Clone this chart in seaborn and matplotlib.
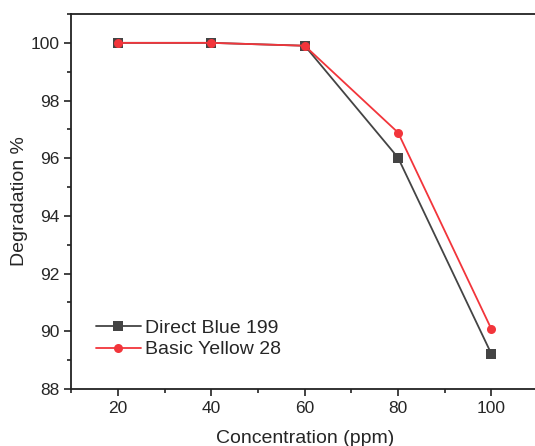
import matplotlib
matplotlib.use("Agg")
import matplotlib.pyplot as plt
import seaborn as sns
import pandas as pd
from matplotlib.ticker import MultipleLocator

concentration = [20, 40, 60, 80, 100]
direct_blue_199 = [100.0, 100.0, 99.9, 96.02, 89.22]
basic_yellow_28 = [100.0, 100.0, 99.9, 96.89, 90.08]
series_names = ["Direct Blue 199", "Basic Yellow 28"]

df = pd.concat([
    pd.DataFrame({"Concentration": concentration, "Degradation": direct_blue_199, "Dye": series_names[0]}),
    pd.DataFrame({"Concentration": concentration, "Degradation": basic_yellow_28, "Dye": series_names[1]}),
])

sns.set_style("ticks")
plt.rcParams['font.family'] = ['Liberation Sans', 'DejaVu Sans']

fig = plt.figure(figsize=(5.35, 4.46), dpi=100)
ax = fig.add_axes([0.1336, 0.1278, 0.872, 0.8408])

palette = {series_names[0]: "#444444", series_names[1]: "#f2353b"}
sns.lineplot(data=df, x="Concentration", y="Degradation", hue="Dye", style="Dye",
             markers={series_names[0]: "s", series_names[1]: "o"},
             dashes=False, palette=palette, markersize=6.5, linewidth=1.3,
             markeredgewidth=0, ax=ax)

ax.set_xlim(10, 110)
ax.set_ylim(88, 101)
ax.xaxis.set_major_locator(MultipleLocator(20))
ax.xaxis.set_minor_locator(MultipleLocator(10))
ax.yaxis.set_major_locator(MultipleLocator(2))
ax.yaxis.set_minor_locator(MultipleLocator(1))
ax.tick_params(which="major", direction="out", length=5, width=1.2, labelsize=12.5, color="#222222")
ax.tick_params(which="minor", direction="out", length=3, width=1.2, color="#222222")
for s in ["left", "bottom", "top"]:
    ax.spines[s].set_linewidth(1.3)
    ax.spines[s].set_color("#222222")
ax.spines["right"].set_visible(False)

ax.set_xlabel("Concentration (ppm)", fontsize=14, labelpad=10)
ax.set_ylabel("Degradation %", fontsize=14, labelpad=2)

leg = ax.legend(loc="lower left", bbox_to_anchor=(0.015, 0.035), frameon=False,
                fontsize=14, handlelength=2.3, handletextpad=0.2, labelspacing=0.2)

fig.savefig("out.png", dpi=100)
